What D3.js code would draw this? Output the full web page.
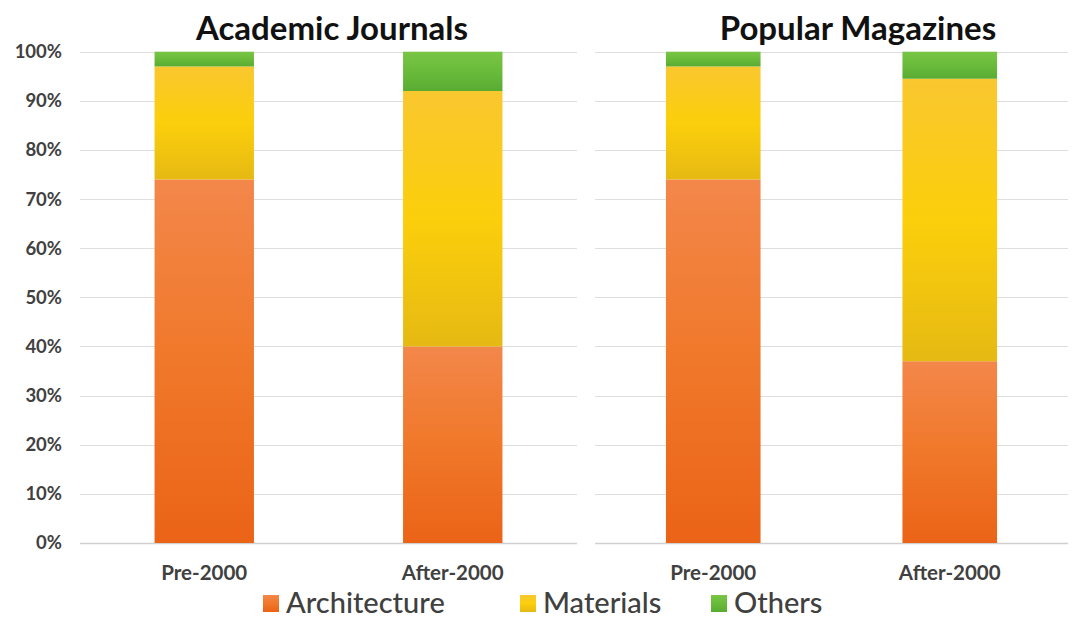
<!DOCTYPE html>
<html>
<head>
<meta charset="utf-8">
<script src="https://cdn.jsdelivr.net/npm/d3@7"></script>
<style>
  body { margin: 0; background: #fff; }
  svg { display: block; font-family: Lato, "Open Sans", sans-serif; }
</style>
</head>
<body>
<div id="chart"></div>
<script>
var categories = ["Pre-2000", "After-2000"];
var seriesNames = ["Architecture", "Materials", "Others"];
var panelTitles = ["Academic Journals", "Popular Magazines"];

// percentage shares
var journalsArchitecture = [74, 40];
var journalsMaterials = [23, 52];
var journalsOthers = [3, 8];

var magazinesArchitecture = [74, 37];
var magazinesMaterials = [23, 57.5];
var magazinesOthers = [3, 5.5];

var yTicks = [0, 10, 20, 30, 40, 50, 60, 70, 80, 90, 100];

var svgWidth = 1076;
var svgHeight = 626;

var svg = d3.select("#chart")
  .append("svg")
  .attr("width", svgWidth)
  .attr("height", svgHeight);

// vertical gradients, light at top and darker at the bottom
var gradStops = {
  Architecture: ["#f3874a", "#f0782a", "#eb6317"],
  Materials: ["#f9c72f", "#fbcf0b", "#e6b913"],
  Others: ["#79c545", "#6abb3b", "#58ac32"]
};

var defs = svg.append("defs");
seriesNames.forEach(function (name) {
  var g = defs.append("linearGradient")
    .attr("id", "grad-" + name)
    .attr("x1", 0).attr("y1", 0).attr("x2", 0).attr("y2", 1);
  gradStops[name].forEach(function (c, i) {
    g.append("stop").attr("offset", (i * 50) + "%").attr("stop-color", c);
  });
});

var y = d3.scaleLinear()
  .domain([0, 100])
  .range([543, 51.7]);

var panels = [
  {
    title: panelTitles[0], titleX: 332, x0: 80, x1: 577,
    rows: categories.map(function (c, i) {
      return { cat: c, Architecture: journalsArchitecture[i], Materials: journalsMaterials[i], Others: journalsOthers[i] };
    })
  },
  {
    title: panelTitles[1], titleX: 858, x0: 595, x1: 1068,
    rows: categories.map(function (c, i) {
      return { cat: c, Architecture: magazinesArchitecture[i], Materials: magazinesMaterials[i], Others: magazinesOthers[i] };
    })
  }
];

var stack = d3.stack().keys(seriesNames);

panels.forEach(function (p, pi) {
  var x = d3.scaleBand()
    .domain(categories)
    .range([p.x0, p.x1])
    .paddingInner(0.6)
    .paddingOuter(0.3);

  var g = svg.append("g");

  // gridlines
  g.selectAll("line.grid")
    .data(yTicks)
    .enter()
    .append("line")
    .attr("class", "grid")
    .attr("x1", p.x0)
    .attr("x2", p.x1)
    .attr("y1", d => Math.round(y(d)) + 0.5)
    .attr("y2", d => Math.round(y(d)) + 0.5)
    .attr("stroke", d => d === 0 ? "#d0d0d0" : "#dedede")
    .attr("stroke-width", d => d === 0 ? 1.5 : 1);

  // stacked bars
  var layers = stack(p.rows);
  g.selectAll("g.layer")
    .data(layers)
    .enter()
    .append("g")
    .attr("class", "layer")
    .selectAll("rect")
    .data(function (layer) {
      return layer.map(function (d) { return { key: layer.key, d: d }; });
    })
    .enter()
    .append("rect")
    .attr("x", d => x(d.d.data.cat))
    .attr("width", x.bandwidth())
    .attr("y", d => y(d.d[1]))
    .attr("height", d => y(d.d[0]) - y(d.d[1]))
    .attr("fill", d => "url(#grad-" + d.key + ")");

  // category labels
  var xAxis = d3.axisBottom(x).tickSize(0).tickPadding(0);
  var ax = g.append("g")
    .attr("transform", "translate(0,580)")
    .call(xAxis);
  ax.select(".domain").remove();
  ax.selectAll("text")
    .attr("dy", null)
    .attr("y", 0)
    .style("font-family", "Lato, sans-serif")
    .style("font-size", "20.5px")
    .style("font-weight", "bold")
    .attr("fill", "#404040");

  // panel title
  svg.append("text")
    .attr("x", p.titleX)
    .attr("y", 40)
    .attr("text-anchor", "middle")
    .style("font-size", "33px")
    .style("font-weight", "bold")
    .attr("fill", "#111")
    .text(p.title);

  // y labels only on the left panel
  if (pi === 0) {
    var yAxis = d3.axisLeft(y)
      .tickValues(yTicks)
      .tickSize(0)
      .tickPadding(0)
      .tickFormat(d => d + "%");
    var ay = svg.append("g")
      .attr("transform", "translate(62,0)")
      .call(yAxis);
    ay.select(".domain").remove();
    ay.selectAll("text")
      .style("font-family", "Lato, sans-serif")
      .style("font-size", "18.5px")
      .style("font-weight", "bold")
      .attr("fill", "#404040");
  }
});

// legend
var legendX = [263, 520, 711];
var legend = svg.append("g");
seriesNames.forEach(function (name, i) {
  legend.append("rect")
    .attr("x", legendX[i])
    .attr("y", 595)
    .attr("width", 16)
    .attr("height", 17)
    .attr("fill", "url(#grad-" + name + ")");
  legend.append("text")
    .attr("x", legendX[i] + 23)
    .attr("y", 613)
    .style("font-size", "29px")
    .style("font-weight", 500)
    .attr("fill", "#404040")
    .text(name);
});
</script>
</body>
</html>
